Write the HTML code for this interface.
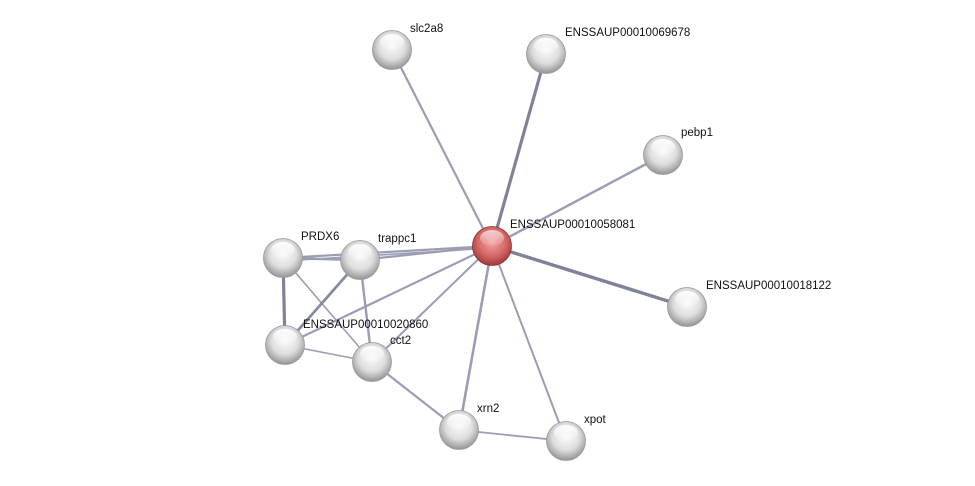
<!DOCTYPE html>
<html><head><style>
html,body{margin:0;padding:0;background:#fff;}
svg{display:block}
text{font-family:"Liberation Sans",sans-serif;font-size:11.5px;fill:#111;}
</style></head><body>
<svg width="975" height="486" viewBox="0 0 975 486" xmlns="http://www.w3.org/2000/svg">
<defs>
<radialGradient id="g" cx="0.5" cy="0.4" r="0.62">
<stop offset="0" stop-color="#fafafa"/><stop offset="0.55" stop-color="#dedede"/><stop offset="1" stop-color="#8e8e8e"/>
</radialGradient>
<radialGradient id="r" cx="0.5" cy="0.4" r="0.62">
<stop offset="0" stop-color="#f3a0a0"/><stop offset="0.55" stop-color="#d96b6b"/><stop offset="1" stop-color="#9a3535"/>
</radialGradient>
<linearGradient id="hl" x1="0" y1="0" x2="0" y2="1">
<stop offset="0" stop-color="#fff" stop-opacity="0.95"/><stop offset="1" stop-color="#fff" stop-opacity="0.1"/>
</linearGradient>
</defs>
<g stroke="#9a9db3" fill="none">
<line x1="492" y1="246" x2="392" y2="50" stroke-width="2.2"/>
<line x1="492" y1="246" x2="546" y2="54" stroke-width="3.2" stroke="#7f8299"/>
<line x1="492" y1="246" x2="663" y2="155" stroke-width="2.5"/>
<line x1="492" y1="246" x2="687" y2="307" stroke-width="3.4" stroke="#7f8299"/>
<line x1="492" y1="246" x2="283" y2="258" stroke-width="2.2"/>
<line x1="492" y1="248" x2="283" y2="261" stroke-width="1.6"/>
<line x1="492" y1="246" x2="360" y2="260" stroke-width="2.2"/>
<line x1="492" y1="246" x2="285" y2="345" stroke-width="2.2"/>
<line x1="492" y1="246" x2="372" y2="362" stroke-width="2"/>
<line x1="492" y1="246" x2="459" y2="430" stroke-width="2.6"/>
<line x1="492" y1="246" x2="566" y2="441" stroke-width="2"/>
<line x1="283" y1="258" x2="360" y2="260" stroke-width="2.6"/>
<line x1="283" y1="258" x2="285" y2="345" stroke-width="3.2" stroke="#7f8299"/>
<line x1="283" y1="258" x2="372" y2="362" stroke-width="1.6"/>
<line x1="360" y1="260" x2="285" y2="345" stroke-width="2.8" stroke="#858aa0"/>
<line x1="360" y1="260" x2="372" y2="362" stroke-width="2.4"/>
<line x1="285" y1="345" x2="372" y2="362" stroke-width="1.6"/>
<line x1="372" y1="362" x2="459" y2="430" stroke-width="2.2"/>
<line x1="459" y1="430" x2="566" y2="441" stroke-width="1.8"/>
</g>
<g id="nodes">
<g transform="translate(392,50)"><circle r="19.5" fill="url(#g)" stroke="#999" stroke-width="0.8"/><ellipse cy="-8" rx="12" ry="8" fill="url(#hl)"/></g>
<g transform="translate(546,54)"><circle r="19.5" fill="url(#g)" stroke="#999" stroke-width="0.8"/><ellipse cy="-8" rx="12" ry="8" fill="url(#hl)"/></g>
<g transform="translate(663,155)"><circle r="19.5" fill="url(#g)" stroke="#999" stroke-width="0.8"/><ellipse cy="-8" rx="12" ry="8" fill="url(#hl)"/></g>
<g transform="translate(687,307)"><circle r="19.5" fill="url(#g)" stroke="#999" stroke-width="0.8"/><ellipse cy="-8" rx="12" ry="8" fill="url(#hl)"/></g>
<g transform="translate(283,258)"><circle r="19.5" fill="url(#g)" stroke="#999" stroke-width="0.8"/><ellipse cy="-8" rx="12" ry="8" fill="url(#hl)"/></g>
<g transform="translate(360,260)"><circle r="19.5" fill="url(#g)" stroke="#999" stroke-width="0.8"/><ellipse cy="-8" rx="12" ry="8" fill="url(#hl)"/></g>
<g transform="translate(285,345)"><circle r="19.5" fill="url(#g)" stroke="#999" stroke-width="0.8"/><ellipse cy="-8" rx="12" ry="8" fill="url(#hl)"/></g>
<g transform="translate(372,362)"><circle r="19.5" fill="url(#g)" stroke="#999" stroke-width="0.8"/><ellipse cy="-8" rx="12" ry="8" fill="url(#hl)"/></g>
<g transform="translate(459,430)"><circle r="19.5" fill="url(#g)" stroke="#999" stroke-width="0.8"/><ellipse cy="-8" rx="12" ry="8" fill="url(#hl)"/></g>
<g transform="translate(566,441)"><circle r="19.5" fill="url(#g)" stroke="#999" stroke-width="0.8"/><ellipse cy="-8" rx="12" ry="8" fill="url(#hl)"/></g>
<g transform="translate(492,246)"><circle r="19.5" fill="url(#r)" stroke="#8a3030" stroke-width="0.8"/><ellipse cy="-8" rx="12" ry="8" fill="url(#hl)" opacity="0.7"/></g>
</g>
<text x="410" y="32">slc2a8</text>
<text x="565" y="36">ENSSAUP00010069678</text>
<text x="681" y="136">pebp1</text>
<text x="510" y="228">ENSSAUP00010058081</text>
<text x="706" y="289">ENSSAUP00010018122</text>
<text x="301" y="240">PRDX6</text>
<text x="378" y="242">trappc1</text>
<text x="303" y="328">ENSSAUP00010020860</text>
<text x="390" y="344">cct2</text>
<text x="477" y="412">xrn2</text>
<text x="584" y="423">xpot</text>
</svg>
</body></html>
